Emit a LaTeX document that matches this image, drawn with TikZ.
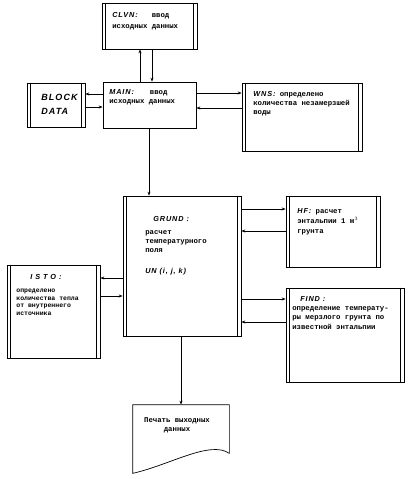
\documentclass[tikz,border=0pt]{standalone}
\usepackage{fontspec}
\setmonofont{Liberation Mono}
\newfontfamily\namefont[LetterSpace=12]{Liberation Sans}
\usetikzlibrary{arrows.meta}

\newcommand{\subname}[1]{{\namefont\bfseries\itshape #1}}

\begin{document}
\begin{tikzpicture}[x=1pt,y=-1pt,line width=0.7pt,>={Stealth[length=4pt,width=3pt]},
  box/.style={draw,inner sep=0pt},
  txt/.style={anchor=north west,inner sep=0pt,align=left,font=\ttfamily\bfseries\fontsize{7.3}{9}\selectfont}]
\useasboundingbox (0,0) rectangle (410,479);
% blocks
\node[box,minimum width=95pt,minimum height=46pt] (clvn) at (149.5,26) {};
\node[box,minimum width=93pt,minimum height=46pt] (main) at (149.5,105) {};
\node[box,minimum width=58pt,minimum height=44pt] (block) at (56,105) {};
\node[box,minimum width=120pt,minimum height=68pt] (wns) at (302,117) {};
\node[box,minimum width=118pt,minimum height=140pt] (grund) at (182,266) {};
\node[box,minimum width=94pt,minimum height=71pt] (hf) at (333,231.5) {};
\node[box,minimum width=93pt,minimum height=93pt] (isto) at (53.5,311.5) {};
\node[box,minimum width=118pt,minimum height=94pt] (find) at (345,335) {};
\node[inner sep=0pt,minimum width=96pt,minimum height=48pt] (prt) at (181,429) {};
\foreach \b in {clvn,block,wns,grund,hf,isto,find}
{
\draw ([xshift=4pt]\b.north west) -- ([xshift=4pt]\b.south west);
\draw ([xshift=-4pt]\b.north east) -- ([xshift=-4pt]\b.south east);
}
% print document
\draw (prt.north west) -- (prt.north east) -- (prt.south east)
  .. controls (210,440) and (170,465) .. ([yshift=-20pt]prt.south west) -- cycle;
% texts
\node[txt,font=\ttfamily\bfseries\fontsize{7.3}{11}\selectfont] (clvntxt) at (112,12) {\subname{CLVN:}\hspace{14pt}ввод\\исходных данных};
\node[txt] (maintxt) at (109,89.5) {\subname{MAIN:}\hspace{16pt}ввод\\исходных данных};
\node[txt,font=\namefont\bfseries\itshape\fontsize{9}{14}\selectfont] (blocktxt) at (41,94) {BLOCK\\DATA};
\node[txt] (wnstxt) at (253,91) {\subname{WNS:} определено\\количества незамерзшей\\воды};
\node[txt] (grundname) at (153,216) {\subname{GRUND :}};
\node[txt] (grundtxt) at (145,230) {расчет\\температурного\\поля};
\node[txt] (grundun) at (145,268) {\subname{UN (i, j, k)}};
\node[txt,font=\ttfamily\bfseries\fontsize{7.3}{10}\selectfont] (hftxt) at (297,208.5) {\subname{HF:} расчет\\энтальпии 1 м$^3$\\грунта};
\node[txt] (istoname) at (30,274) {\subname{I S T O :}};
\node[txt,font=\ttfamily\bfseries\fontsize{6.5}{7.5}\selectfont] (istotxt) at (16,289) {определено\\количества тепла\\от внутреннего\\источника};
\node[txt] (findname) at (300,296) {\subname{FIND :}};
\node[txt,font=\ttfamily\bfseries\fontsize{7.3}{9.5}\selectfont] (findtxt) at (292,306) {определение температу-\\ры мерзлого грунта по\\известной энтальпии};
\node[txt,anchor=center,align=center] (prttxt) at (177,425) {Печать выходных\\данных};
% connectors
\draw[->] ([xshift=-9.5pt]main.north) -- ([xshift=-9.5pt]clvn.south);
\draw[->] ([xshift=2.5pt]clvn.south) -- ([xshift=2.5pt]main.north);
\draw[->] ([yshift=11pt]main.west) -- ([yshift=11pt]block.east);
\draw[->] ([yshift=-2pt]block.east) -- ([yshift=-2pt]main.west);
\draw[->] ([yshift=12pt]main.east) -- ([yshift=24pt]wns.west);
\draw[->] ([yshift=9pt]wns.west) -- ([yshift=-3pt]main.east);
\draw[->] ([xshift=-0.5pt]main.south) -- ([xshift=-33pt]grund.north);
\draw[->] ([yshift=57pt]grund.east) -- ([yshift=22.5pt]hf.west);
\draw[->] ([yshift=0.5pt]hf.west) -- ([yshift=35pt]grund.east);
\draw[->] ([yshift=-33pt]grund.east) -- ([yshift=36pt]find.west);
\draw[->] ([yshift=13pt]find.west) -- ([yshift=-56pt]grund.east);
\draw[->] ([yshift=-12pt]grund.west) -- ([yshift=33.5pt]isto.east);
\draw[->] ([yshift=15.5pt]isto.east) -- ([yshift=-30pt]grund.west);
\draw[->] ([xshift=-1pt]grund.south) -- (prt.north);
\end{tikzpicture}
\end{document}
